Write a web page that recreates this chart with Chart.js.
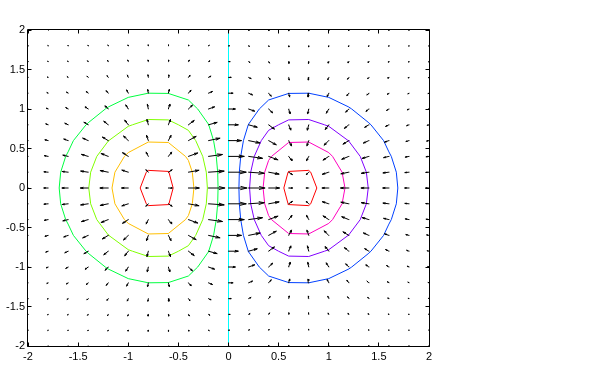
<!DOCTYPE html>
<html><head><meta charset="utf-8">
<script src="https://cdn.jsdelivr.net/npm/chart.js@4/dist/chart.umd.min.js"></script>
<style>html,body{margin:0;padding:0;background:#fff;}canvas{display:block;}</style>
</head><body>
<canvas id="c" width="600" height="365"></canvas>
<script>
// ---------- data ----------
const gridX = [-2,-1.8,-1.6,-1.4,-1.2,-1,-0.8,-0.6,-0.4,-0.2,0,0.2,0.4,0.6,0.8,1,1.2,1.4,1.6,1.8,2];
const gridY = [-2,-1.8,-1.6,-1.4,-1.2,-1,-0.8,-0.6,-0.4,-0.2,0,0.2,0.4,0.6,0.8,1,1.2,1.4,1.6,1.8,2];
const xTicks = [-2,-1.5,-1,-0.5,0,0.5,1,1.5,2];
const yTicks = [-2,-1.5,-1,-0.5,0,0.5,1,1.5,2];

// arrow x-components, one row per gridY value
const arrowU = [
[-0.003,-0.004,-0.006,-0.007,-0.008,-0.006,-0.002,0.004,0.010,0.016,0.018,0.016,0.010,0.004,-0.002,-0.006,-0.008,-0.007,-0.006,-0.004,-0.003],
[-0.007,-0.009,-0.012,-0.016,-0.017,-0.013,-0.005,0.008,0.022,0.033,0.038,0.033,0.022,0.008,-0.005,-0.013,-0.017,-0.016,-0.012,-0.009,-0.007],
[-0.013,-0.017,-0.025,-0.031,-0.033,-0.027,-0.010,0.016,0.044,0.066,0.074,0.066,0.044,0.016,-0.010,-0.027,-0.033,-0.031,-0.025,-0.017,-0.013],
[-0.024,-0.031,-0.045,-0.057,-0.060,-0.048,-0.018,0.029,0.080,0.120,0.135,0.120,0.080,0.029,-0.018,-0.048,-0.060,-0.057,-0.045,-0.031,-0.024],
[-0.040,-0.052,-0.075,-0.095,-0.101,-0.081,-0.030,0.048,0.134,0.202,0.228,0.202,0.134,0.048,-0.030,-0.081,-0.101,-0.095,-0.075,-0.052,-0.040],
[-0.062,-0.080,-0.117,-0.148,-0.157,-0.127,-0.047,0.074,0.208,0.314,0.354,0.314,0.208,0.074,-0.047,-0.127,-0.157,-0.148,-0.117,-0.080,-0.062],
[-0.089,-0.115,-0.167,-0.212,-0.225,-0.181,-0.067,0.107,0.298,0.449,0.507,0.449,0.298,0.107,-0.067,-0.181,-0.225,-0.212,-0.167,-0.115,-0.089],
[-0.118,-0.152,-0.221,-0.280,-0.298,-0.240,-0.089,0.141,0.395,0.595,0.671,0.595,0.395,0.141,-0.089,-0.240,-0.298,-0.280,-0.221,-0.152,-0.118],
[-0.144,-0.186,-0.270,-0.342,-0.364,-0.293,-0.108,0.172,0.482,0.726,0.819,0.726,0.482,0.172,-0.108,-0.293,-0.364,-0.342,-0.270,-0.186,-0.144],
[-0.163,-0.209,-0.304,-0.386,-0.410,-0.330,-0.122,0.194,0.544,0.819,0.923,0.819,0.544,0.194,-0.122,-0.330,-0.410,-0.386,-0.304,-0.209,-0.163],
[-0.170,-0.218,-0.317,-0.402,-0.427,-0.344,-0.127,0.202,0.566,0.852,0.961,0.852,0.566,0.202,-0.127,-0.344,-0.427,-0.402,-0.317,-0.218,-0.170],
[-0.163,-0.209,-0.304,-0.386,-0.410,-0.330,-0.122,0.194,0.544,0.819,0.923,0.819,0.544,0.194,-0.122,-0.330,-0.410,-0.386,-0.304,-0.209,-0.163],
[-0.144,-0.186,-0.270,-0.342,-0.364,-0.293,-0.108,0.172,0.482,0.726,0.819,0.726,0.482,0.172,-0.108,-0.293,-0.364,-0.342,-0.270,-0.186,-0.144],
[-0.118,-0.152,-0.221,-0.280,-0.298,-0.240,-0.089,0.141,0.395,0.595,0.671,0.595,0.395,0.141,-0.089,-0.240,-0.298,-0.280,-0.221,-0.152,-0.118],
[-0.089,-0.115,-0.167,-0.212,-0.225,-0.181,-0.067,0.107,0.298,0.449,0.507,0.449,0.298,0.107,-0.067,-0.181,-0.225,-0.212,-0.167,-0.115,-0.089],
[-0.062,-0.080,-0.117,-0.148,-0.157,-0.127,-0.047,0.074,0.208,0.314,0.354,0.314,0.208,0.074,-0.047,-0.127,-0.157,-0.148,-0.117,-0.080,-0.062],
[-0.040,-0.052,-0.075,-0.095,-0.101,-0.081,-0.030,0.048,0.134,0.202,0.228,0.202,0.134,0.048,-0.030,-0.081,-0.101,-0.095,-0.075,-0.052,-0.040],
[-0.024,-0.031,-0.045,-0.057,-0.060,-0.048,-0.018,0.029,0.080,0.120,0.135,0.120,0.080,0.029,-0.018,-0.048,-0.060,-0.057,-0.045,-0.031,-0.024],
[-0.013,-0.017,-0.025,-0.031,-0.033,-0.027,-0.010,0.016,0.044,0.066,0.074,0.066,0.044,0.016,-0.010,-0.027,-0.033,-0.031,-0.025,-0.017,-0.013],
[-0.007,-0.009,-0.012,-0.016,-0.017,-0.013,-0.005,0.008,0.022,0.033,0.038,0.033,0.022,0.008,-0.005,-0.013,-0.017,-0.016,-0.012,-0.009,-0.007],
[-0.003,-0.004,-0.006,-0.007,-0.008,-0.006,-0.002,0.004,0.010,0.016,0.018,0.016,0.010,0.004,-0.002,-0.006,-0.008,-0.007,-0.006,-0.004,-0.003]
];
// arrow y-components, one row per gridY value
const arrowV = [
[-0.004,-0.007,-0.013,-0.021,-0.030,-0.038,-0.044,-0.044,-0.036,-0.020,0,0.020,0.036,0.044,0.044,0.038,0.030,0.021,0.013,0.007,0.004],
[-0.005,-0.010,-0.018,-0.029,-0.042,-0.054,-0.062,-0.062,-0.050,-0.028,0,0.028,0.050,0.062,0.062,0.054,0.042,0.029,0.018,0.010,0.005],
[-0.009,-0.018,-0.031,-0.050,-0.072,-0.094,-0.107,-0.107,-0.087,-0.049,0,0.049,0.087,0.107,0.107,0.094,0.072,0.050,0.031,0.018,0.009],
[-0.015,-0.028,-0.049,-0.079,-0.113,-0.147,-0.168,-0.167,-0.136,-0.077,0,0.077,0.136,0.167,0.168,0.147,0.113,0.079,0.049,0.028,0.015],
[-0.021,-0.040,-0.070,-0.112,-0.161,-0.209,-0.239,-0.238,-0.194,-0.109,0,0.109,0.194,0.238,0.239,0.209,0.161,0.112,0.070,0.040,0.021],
[-0.027,-0.051,-0.090,-0.143,-0.206,-0.267,-0.306,-0.304,-0.248,-0.140,0,0.140,0.248,0.304,0.306,0.267,0.206,0.143,0.090,0.051,0.027],
[-0.030,-0.058,-0.102,-0.163,-0.234,-0.303,-0.348,-0.345,-0.281,-0.158,0,0.158,0.281,0.345,0.348,0.303,0.234,0.163,0.102,0.058,0.030],
[-0.030,-0.057,-0.100,-0.160,-0.231,-0.299,-0.342,-0.340,-0.277,-0.156,0,0.156,0.277,0.340,0.342,0.299,0.231,0.160,0.100,0.057,0.030],
[-0.024,-0.046,-0.081,-0.130,-0.187,-0.242,-0.277,-0.275,-0.224,-0.126,0,0.126,0.224,0.275,0.277,0.242,0.187,0.130,0.081,0.046,0.024],
[-0.014,-0.026,-0.046,-0.073,-0.105,-0.136,-0.156,-0.155,-0.126,-0.071,0,0.071,0.126,0.155,0.156,0.136,0.105,0.073,0.046,0.026,0.014],
[0,0,0,0,0,0,0,0,0,0,0,0,0,0,0,0,0,0,0,0,0],
[0.014,0.026,0.046,0.073,0.105,0.136,0.156,0.155,0.126,0.071,0,-0.071,-0.126,-0.155,-0.156,-0.136,-0.105,-0.073,-0.046,-0.026,-0.014],
[0.024,0.046,0.081,0.130,0.187,0.242,0.277,0.275,0.224,0.126,0,-0.126,-0.224,-0.275,-0.277,-0.242,-0.187,-0.130,-0.081,-0.046,-0.024],
[0.030,0.057,0.100,0.160,0.231,0.299,0.342,0.340,0.277,0.156,0,-0.156,-0.277,-0.340,-0.342,-0.299,-0.231,-0.160,-0.100,-0.057,-0.030],
[0.030,0.058,0.102,0.163,0.234,0.303,0.348,0.345,0.281,0.158,0,-0.158,-0.281,-0.345,-0.348,-0.303,-0.234,-0.163,-0.102,-0.058,-0.030],
[0.027,0.051,0.090,0.143,0.206,0.267,0.306,0.304,0.248,0.140,0,-0.140,-0.248,-0.304,-0.306,-0.267,-0.206,-0.143,-0.090,-0.051,-0.027],
[0.021,0.040,0.070,0.112,0.161,0.209,0.239,0.238,0.194,0.109,0,-0.109,-0.194,-0.238,-0.239,-0.209,-0.161,-0.112,-0.070,-0.040,-0.021],
[0.015,0.028,0.049,0.079,0.113,0.147,0.168,0.167,0.136,0.077,0,-0.077,-0.136,-0.167,-0.168,-0.147,-0.113,-0.079,-0.049,-0.028,-0.015],
[0.009,0.018,0.031,0.050,0.072,0.094,0.107,0.107,0.087,0.049,0,-0.049,-0.087,-0.107,-0.107,-0.094,-0.072,-0.050,-0.031,-0.018,-0.009],
[0.005,0.010,0.018,0.029,0.042,0.054,0.062,0.062,0.050,0.028,0,-0.028,-0.050,-0.062,-0.062,-0.054,-0.042,-0.029,-0.018,-0.010,-0.005],
[0.004,0.007,0.013,0.021,0.030,0.038,0.044,0.044,0.036,0.020,0,-0.020,-0.036,-0.044,-0.044,-0.038,-0.030,-0.021,-0.013,-0.007,-0.004]
];

// contour levels and their traced outlines
const contourLevels = [-0.4,-0.3,-0.2,-0.1,0,0.1,0.2,0.3,0.4];
const cM04x = [-0.552,-0.594,-0.6,-0.8,-0.820,-0.881,-0.820,-0.8,-0.6,-0.594,-0.552];
const cM04y = [0,0.2,0.210,0.223,0.2,0,-0.2,-0.223,-0.210,-0.2,0];
const cM03x = [-0.345,-0.361,-0.4,-0.429,-0.6,-0.8,-1.0,-1.038,-1.133,-1.162,-1.133,-1.038,-1.0,-0.8,-0.6,-0.429,-0.4,-0.361,-0.345];
const cM03y = [0,0.2,0.349,0.4,0.576,0.582,0.448,0.4,0.2,0,-0.2,-0.4,-0.448,-0.582,-0.576,-0.4,-0.349,-0.2,0];
const cM02x = [-0.2105,-0.2215,-0.257,-0.327,-0.4,-0.499,-0.6,-0.8,-0.958,-1.0,-1.194,-1.2,-1.314,-1.375,-1.394,-1.375,-1.314,-1.2,-1.194,-1.0,-0.958,-0.8,-0.6,-0.499,-0.4,-0.327,-0.257,-0.2215,-0.2105];
const cM02y = [0,0.2,0.4,0.6,0.730,0.8,0.862,0.867,0.8,0.781,0.6,0.593,0.4,0.2,0,-0.2,-0.4,-0.593,-0.6,-0.781,-0.8,-0.867,-0.862,-0.8,-0.730,-0.6,-0.4,-0.2,0];
const cM01x = [-0.104,-0.108,-0.122,-0.149,-0.197,-0.2,-0.307,-0.4,-0.6,-0.8,-1.0,-1.2,-1.229,-1.4,-1.421,-1.547,-1.6,-1.624,-1.674,-1.689,-1.674,-1.624,-1.6,-1.547,-1.421,-1.4,-1.229,-1.2,-1.0,-0.8,-0.6,-0.4,-0.307,-0.2,-0.197,-0.149,-0.122,-0.108,-0.104];
const cM01y = [0,0.2,0.4,0.6,0.8,0.808,1.0,1.114,1.197,1.2,1.147,1.025,1.0,0.825,0.8,0.6,0.457,0.4,0.2,0,-0.2,-0.4,-0.457,-0.6,-0.8,-0.825,-1.0,-1.025,-1.147,-1.2,-1.197,-1.114,-1.0,-0.808,-0.8,-0.6,-0.4,-0.2,0];
const c00x = [0,0];
const c00y = [-2,2];
const cP01x = [0.104,0.108,0.122,0.149,0.197,0.2,0.307,0.4,0.6,0.8,1.0,1.2,1.229,1.4,1.421,1.547,1.6,1.624,1.674,1.689,1.674,1.624,1.6,1.547,1.421,1.4,1.229,1.2,1.0,0.8,0.6,0.4,0.307,0.2,0.197,0.149,0.122,0.108,0.104];
const cP01y = [0,0.2,0.4,0.6,0.8,0.808,1.0,1.114,1.197,1.2,1.147,1.025,1.0,0.825,0.8,0.6,0.457,0.4,0.2,0,-0.2,-0.4,-0.457,-0.6,-0.8,-0.825,-1.0,-1.025,-1.147,-1.2,-1.197,-1.114,-1.0,-0.808,-0.8,-0.6,-0.4,-0.2,0];
const cP02x = [0.2105,0.2215,0.257,0.327,0.4,0.499,0.6,0.8,0.958,1.0,1.194,1.2,1.314,1.375,1.394,1.375,1.314,1.2,1.194,1.0,0.958,0.8,0.6,0.499,0.4,0.327,0.257,0.2215,0.2105];
const cP02y = [0,0.2,0.4,0.6,0.730,0.8,0.862,0.867,0.8,0.781,0.6,0.593,0.4,0.2,0,-0.2,-0.4,-0.593,-0.6,-0.781,-0.8,-0.867,-0.862,-0.8,-0.730,-0.6,-0.4,-0.2,0];
const cP03x = [0.345,0.361,0.4,0.429,0.6,0.8,1.0,1.038,1.133,1.162,1.133,1.038,1.0,0.8,0.6,0.429,0.4,0.361,0.345];
const cP03y = [0,0.2,0.349,0.4,0.576,0.582,0.448,0.4,0.2,0,-0.2,-0.4,-0.448,-0.582,-0.576,-0.4,-0.349,-0.2,0];
const cP04x = [0.552,0.594,0.6,0.8,0.820,0.881,0.820,0.8,0.6,0.594,0.552];
const cP04y = [0,0.2,0.210,0.223,0.2,0,-0.2,-0.223,-0.210,-0.2,0];

// ---------- styling ----------
const levelColors = ['#ff0000','#ffbf00','#80ff00','#00ff40','#00ffff','#0040ff','#8000ff','#ff00bf','#ff0000'];
const contourXs = [cM04x,cM03x,cM02x,cM01x,c00x,cP01x,cP02x,cP03x,cP04x];
const contourYs = [cM04y,cM03y,cM02y,cM01y,c00y,cP01y,cP02y,cP03y,cP04y];
const ARROW_SCALE = 0.19, HEAD_A = 0.33, HEAD_B = 0.33;

const arrowPts = [];
const GAP = {x: NaN, y: NaN};
gridY.forEach((yv, j) => gridX.forEach((xv, i) => {
  const u = arrowU[j][i] * ARROW_SCALE, v = arrowV[j][i] * ARROW_SCALE;
  const tx = xv + u, ty = yv + v;
  arrowPts.push({x: xv, y: yv}, {x: tx, y: ty}, GAP,
    {x: tx - HEAD_A * (u + HEAD_B * v), y: ty - HEAD_A * (v - HEAD_B * u)},
    {x: tx, y: ty},
    {x: tx - HEAD_A * (u - HEAD_B * v), y: ty - HEAD_A * (v + HEAD_B * u)}, GAP);
}));

const datasets = [{
  label: 'quiver', data: arrowPts, showLine: true, spanGaps: false,
  borderColor: '#000', borderWidth: 1, pointRadius: 0, borderCapStyle: 'square', order: 0
}];
contourLevels.forEach((lv, k) => {
  datasets.push({
    label: 'z = ' + lv,
    data: contourXs[k].map((xv, i) => ({x: xv, y: contourYs[k][i]})),
    showLine: true, borderColor: levelColors[k], borderWidth: 1, pointRadius: 0, order: 1 + k
  });
});

const frame = {
  id: 'frame',
  afterDraw(chart) {
    const {ctx, chartArea: a, scales: {x, y}} = chart;
    ctx.save();
    ctx.strokeStyle = '#000'; ctx.lineWidth = 1;
    ctx.beginPath();
    const L = a.left - 0.5, R = a.right + 0.5, T = a.top - 0.5, B = a.bottom + 0.5;
    ctx.rect(L, T, R - L, B - T);
    const tl = 4;
    xTicks.forEach(v => {
      const p = Math.floor(x.getPixelForValue(v)) + 0.5;
      ctx.moveTo(p, B); ctx.lineTo(p, B - tl);
      ctx.moveTo(p, T); ctx.lineTo(p, T + tl);
    });
    yTicks.forEach(v => {
      const p = Math.floor(y.getPixelForValue(v)) + 0.5;
      ctx.moveTo(L, p); ctx.lineTo(L + tl, p);
      ctx.moveTo(R, p); ctx.lineTo(R - tl, p);
    });
    ctx.stroke();
    ctx.restore();
  }
};

Chart.defaults.font.family = '"Liberation Sans", Arial, Helvetica, sans-serif';
Chart.defaults.font.size = 11;
Chart.defaults.color = '#000';

new Chart(document.getElementById('c'), {
  type: 'scatter',
  data: {datasets},
  options: {
    responsive: false, devicePixelRatio: 1, animation: false,
    layout: {padding: {left: 0, top: 30, right: 171, bottom: 0}},
    plugins: {legend: {display: false}, tooltip: {enabled: false}},
    elements: {line: {tension: 0, fill: false}},
    scales: {
      x: {
        type: 'linear', min: -2, max: 2,
        grid: {display: false, drawTicks: false}, border: {display: false},
        afterBuildTicks: s => { s.ticks = xTicks.map(v => ({value: v})); },
        ticks: {padding: 4, maxRotation: 0, autoSkip: false, callback: v => String(v)},
        afterFit: s => { s.height = 19; }
      },
      y: {
        type: 'linear', min: -2, max: 2,
        grid: {display: false, drawTicks: false}, border: {display: false},
        afterBuildTicks: s => { s.ticks = yTicks.map(v => ({value: v})); },
        ticks: {padding: 3, autoSkip: false, callback: v => String(v)},
        afterFit: s => { s.width = 28; }
      }
    }
  },
  plugins: [frame]
});
</script>
</body></html>
